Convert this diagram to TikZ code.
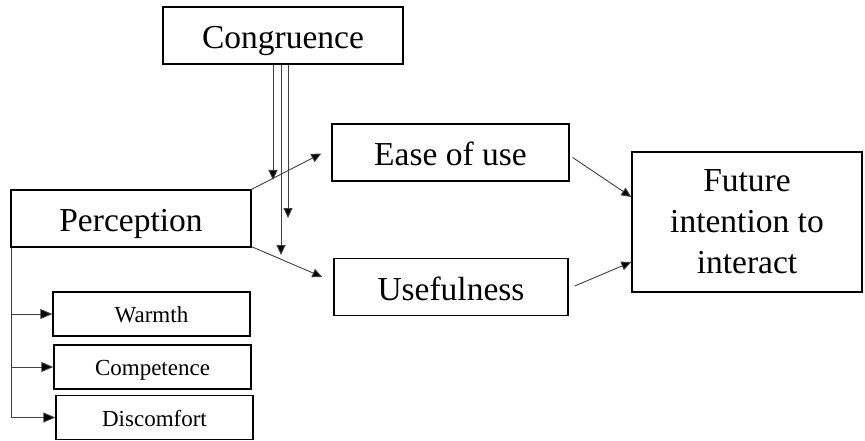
\documentclass[tikz,border=0pt]{standalone}
\usepackage{fontspec}
\setmainfont{Liberation Serif}
\usetikzlibrary{arrows.meta}
\begin{document}
\begin{tikzpicture}[x=1pt,y=-1pt,
  boxline/.style={draw=black, line width=1.4pt, inner sep=0pt},
  bigbox/.style={boxline, minimum height=57pt, text height=26pt, text depth=0pt,
    font=\fontsize{33.5}{41}\selectfont},
  tallbox/.style={boxline, minimum height=140pt, align=center,
    font=\fontsize{33.5}{41}\selectfont},
  smallbox/.style={boxline, minimum width=197pt, minimum height=44pt,
    text height=17pt, text depth=0pt, font=\fontsize{23}{28}\selectfont},
  link/.style={draw=black!75, line width=0.9pt, -{Triangle[length=10pt,width=9pt,fill=black]}},
  sublink/.style={draw=black!75, line width=0.9pt, -{Triangle[length=12pt,width=10pt,fill=black]}}]
\useasboundingbox (0,0) rectangle (865,441);

% main constructs
\node[bigbox, minimum width=240pt] (cong) at (283,35.5) {Congruence};
\node[bigbox, minimum width=240pt] (perc) at (131,218.5) {Perception};
\node[bigbox, minimum width=237pt] (ease) at (450.5,152.5) {Ease of use};
\node[bigbox, minimum width=234pt] (use) at (451,287) {Usefulness};
\node[tallbox, minimum width=230pt] (fut) at (747,222)
  {Future\\intention to\\interact};

% perception dimensions
\node[smallbox] (warm) at (151.5,314) {Warmth};
\node[smallbox] (comp) at (152.5,367) {Competence};
\node[smallbox] (disc) at (154.5,417.5) {Discomfort};

% moderating arrows from congruence
\coordinate (m1) at (273,180);
\coordinate (m2) at (288,218);
\coordinate (m3) at (281,255);
\draw[link] (cong.south -| m1) -- (m1);
\draw[link] (cong.south -| m2) -- (m2);
\draw[link] (cong.south -| m3) -- (m3);

% perception to TAM constructs
\draw[link] (perc.north east) -- ([xshift=-10pt,yshift=-1pt]ease.west);
\draw[link] ([yshift=1pt]perc.south east) -- ([xshift=-11pt,yshift=10pt]use.west);

% TAM constructs to intention
\draw[link] ([xshift=3pt,yshift=-5pt]ease.east) -- ([yshift=25pt]fut.west);
\draw[link] ([xshift=6pt,yshift=1pt]use.east) -- ([yshift=-40pt]fut.west);

% perception dimensions branch
\coordinate (pb) at ([xshift=1pt]perc.south west);
\draw[draw=black!75, line width=0.9pt] (pb) -- (pb |- disc.west);
\draw[sublink] (pb |- warm.west) -- (warm.west);
\draw[sublink] (pb |- comp.west) -- (comp.west);
\draw[sublink] (pb |- disc.west) -- (disc.west);
\end{tikzpicture}
\end{document}
